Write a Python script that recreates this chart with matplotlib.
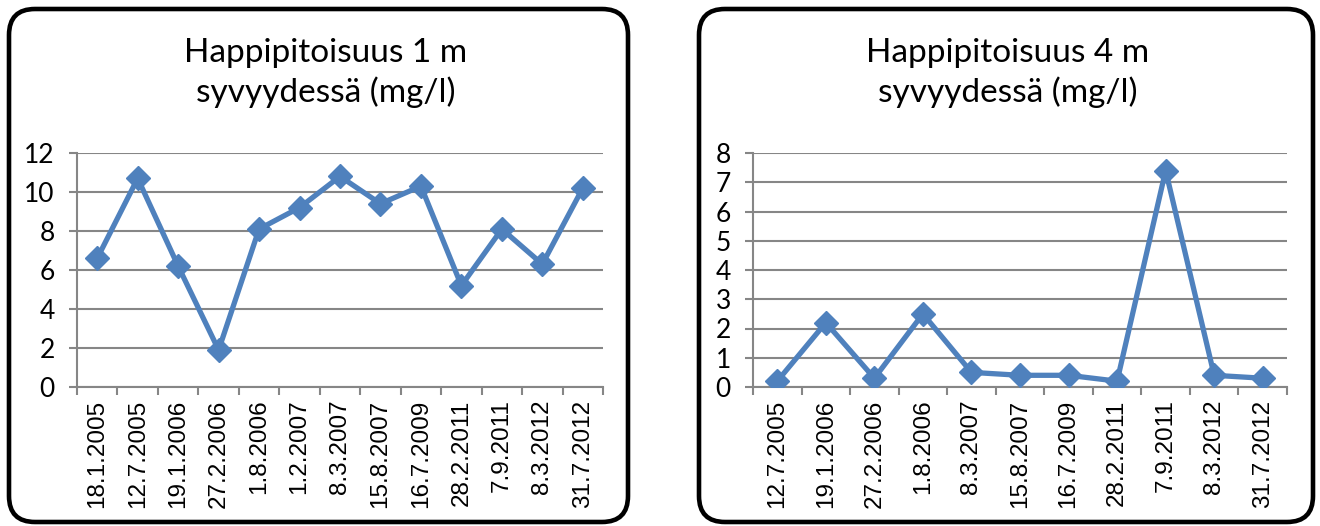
import matplotlib
matplotlib.use("Agg")
import matplotlib.pyplot as plt
from matplotlib.patches import FancyBboxPatch
import numpy as np

# data
dates_1m = ["18.1.2005", "12.7.2005", "19.1.2006", "27.2.2006", "1.8.2006", "1.2.2007",
            "8.3.2007", "15.8.2007", "16.7.2009", "28.2.2011", "7.9.2011", "8.3.2012", "31.7.2012"]
oxygen_1m = [6.6, 10.7, 6.2, 1.9, 8.1, 9.2, 10.8, 9.4, 10.3, 5.2, 8.1, 6.3, 10.2]

dates_4m = ["12.7.2005", "19.1.2006", "27.2.2006", "1.8.2006", "8.3.2007", "15.8.2007",
            "16.7.2009", "28.2.2011", "7.9.2011", "8.3.2012", "31.7.2012"]
oxygen_4m = [0.2, 2.2, 0.3, 2.5, 0.5, 0.4, 0.4, 0.2, 7.4, 0.4, 0.3]

titles = ["Happipitoisuus 1 m\nsyvyydessä (mg/l)", "Happipitoisuus 4 m\nsyvyydessä (mg/l)"]

W, H = 1320, 526
fig = plt.figure(figsize=(W / 100, H / 100), dpi=100)

blue = "#4F81BD"
grid = "#868686"
title_font = ["Lato", "DejaVu Sans"]
ytick_font = ["Liberation Sans Narrow", "Lato", "DejaVu Sans"]
xtick_font = ["Liberation Sans", "DejaVu Sans"]

# rounded frames (pixel coords)
for x0, x1 in [(9, 628), (699, 1313)]:
    fig.patches.append(FancyBboxPatch((x0, 4), x1 - x0, 513,
                                      boxstyle="round,pad=0,rounding_size=26",
                                      transform=None, fill=False,
                                      edgecolor="black", linewidth=3.3))


def panel(ax_rect, labels, values, ymax, title, title_x):
    ax = fig.add_axes(ax_rect)
    n = len(values)
    x = np.arange(n)
    ax.plot(x, values, color=blue, lw=3.8, marker="D", markersize=12,
            markerfacecolor=blue, markeredgecolor=blue, zorder=3)
    ax.set_xlim(-0.5, n - 0.5)
    ax.set_ylim(0, ymax)
    ax.set_yticks(range(0, ymax + 1, 2 if ymax > 8 else 1))
    ax.yaxis.grid(True, color=grid, lw=1.5)
    ax.set_axisbelow(True)
    for s in ["top", "right"]:
        ax.spines[s].set_visible(False)
    for s in ["left", "bottom"]:
        ax.spines[s].set_color(grid)
        ax.spines[s].set_linewidth(1.5)
    ax.set_xticks(x)
    ax.set_xticklabels(labels, rotation=90, fontsize=17.5, family=xtick_font)
    ax.set_xticks(np.arange(n + 1) - 0.5, minor=True)
    ax.tick_params(axis="x", which="major", length=0, pad=9)
    ax.tick_params(axis="x", which="minor", length=6, color=grid, width=1.5)
    ax.tick_params(axis="y", length=6, color=grid, width=1.5, pad=10)
    for t in ax.get_yticklabels():
        t.set_fontsize(19)
        t.set_family(ytick_font)
    fig.text(title_x / W, 1 - 73 / H, title, ha="center", va="center",
             fontsize=24, family=title_font, linespacing=1.3)
    return ax


panel([77 / W, 1 - 387 / H, (603 - 77) / W, (387 - 153) / H],
      dates_1m, oxygen_1m, 12, titles[0], 326)
panel([753 / W, 1 - 387 / H, (1287 - 753) / W, (387 - 153) / H],
      dates_4m, oxygen_4m, 8, titles[1], 1008)

fig.savefig("out.png", dpi=100)
